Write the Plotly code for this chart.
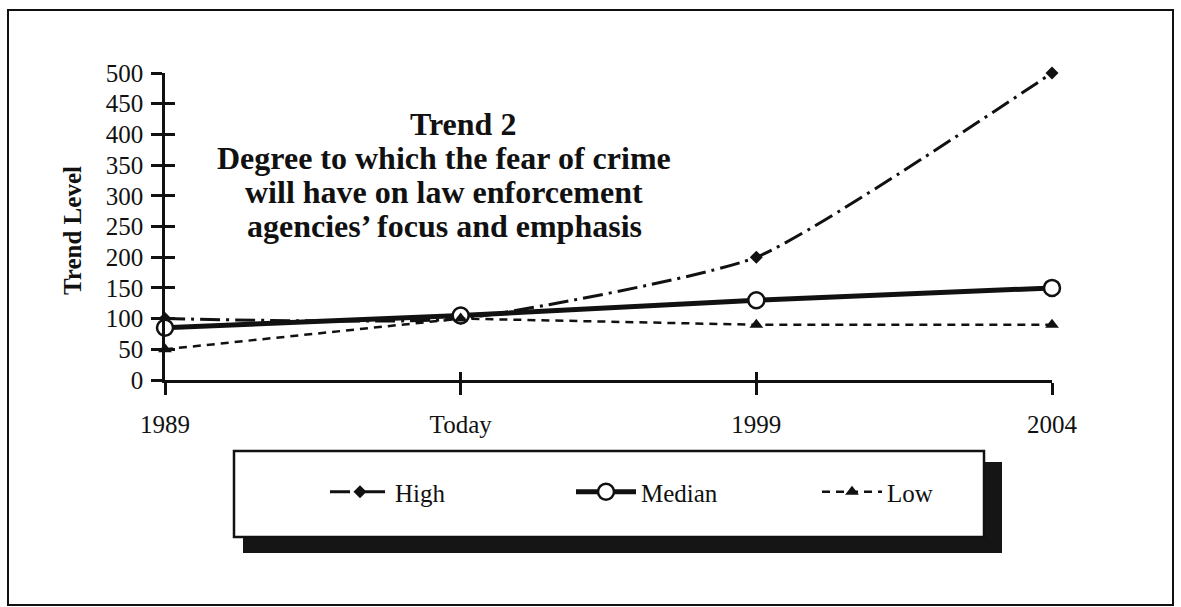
import plotly.graph_objects as go

PERIODS = ["1989", "Today", "1999", "2004"]
HIGH = [100, 100, 200, 500]
MEDIAN = [85, 105, 130, 150]
LOW = [50, 100, 90, 90]
Y_TICKS = list(range(0, 501, 50))

TITLE_LINES = [
    "Trend 2",
    "Degree to which the fear of crime",
    "will have on law enforcement",
    "agencies\u2019 focus and emphasis",
]

SERIF = "Liberation Serif, Times New Roman, serif"
INK = "#111111"

# plot area in pixels: x 165..1052, y 73..380 (figure 1181 x 607)
W, H = 1181, 607
L, R, T, B = 165, 129, 73, 227
PW, PH = W - L - R, H - T - B


def px_x(p):
    return (p - L) / PW


def px_y(p):
    return (H - B - p) / PH


fig = go.Figure()

fig.add_trace(go.Scatter(
    x=PERIODS, y=HIGH, name="High", mode="lines+markers",
    line=dict(color=INK, width=3, dash="20px,6px,3px,6px", shape="spline", smoothing=0.5),
    marker=dict(symbol="diamond", size=10, color=INK),
    cliponaxis=False,
))
fig.add_trace(go.Scatter(
    x=PERIODS, y=MEDIAN, name="Median", mode="lines+markers",
    line=dict(color=INK, width=5),
    marker=dict(symbol="circle", size=16, color="white", line=dict(color=INK, width=2.5)),
    cliponaxis=False,
))
fig.add_trace(go.Scatter(
    x=PERIODS, y=LOW, name="Low", mode="lines+markers",
    line=dict(color=INK, width=2.5, dash="8px,6px"),
    marker=dict(symbol="triangle-up", size=12, color=INK),
    cliponaxis=False,
))
# empty trace so the overlay axes (inner half of the crossing ticks) get drawn
fig.add_trace(go.Scatter(x=[], y=[], xaxis="x2", yaxis="y2", showlegend=False, hoverinfo="skip"))

axis_font = dict(family=SERIF, size=25, color=INK)

annotations = [
    dict(text=f"<b>{line}</b>", xref="paper", yref="paper",
         x=px_x(463 if i == 0 else 444), y=px_y(124 + 34 * i),
         xanchor="center", yanchor="middle",
         showarrow=False, font=dict(family=SERIF, size=32, color=INK))
    for i, line in enumerate(TITLE_LINES)
]
annotations.append(dict(
    text="<b>Trend Level</b>", textangle=-90,
    xref="paper", yref="paper", x=px_x(72), y=px_y(231),
    xanchor="center", yanchor="middle", showarrow=False,
    font=dict(family=SERIF, size=25, color=INK),
))

fig.update_layout(
    width=W, height=H,
    paper_bgcolor="white", plot_bgcolor="white",
    margin=dict(l=L, r=R, t=T, b=B),
    font=dict(family=SERIF, color=INK),
    xaxis=dict(
        type="category", categoryorder="array", categoryarray=PERIODS,
        range=[0, len(PERIODS) - 1], showgrid=False, zeroline=False,
        showline=True, linecolor=INK, linewidth=2.5,
        ticks="outside", ticklen=12, tickwidth=2.5, tickcolor=INK,
        tickfont=axis_font, ticklabelstandoff=8,
    ),
    yaxis=dict(
        range=[0, 500], tickvals=Y_TICKS, showgrid=False, zeroline=False,
        showline=True, linecolor=INK, linewidth=2.5,
        ticks="outside", ticklen=11, tickwidth=2.5, tickcolor=INK,
        tickfont=axis_font, ticklabelstandoff=3,
    ),
    xaxis2=dict(
        overlaying="x", anchor="y2", range=[0, len(PERIODS) - 1],
        tickvals=list(range(len(PERIODS))), showticklabels=False,
        showgrid=False, zeroline=False, showline=False,
        ticks="inside", ticklen=8, tickwidth=2.5, tickcolor=INK,
    ),
    yaxis2=dict(
        overlaying="y", anchor="x2", range=[0, 500], tickvals=Y_TICKS,
        showticklabels=False, showgrid=False, zeroline=False, showline=False,
        ticks="inside", ticklen=10, tickwidth=2.5, tickcolor=INK,
    ),
    showlegend=True,
    legend=dict(
        orientation="h", x=px_x(325), xanchor="left", y=px_y(492), yanchor="middle",
        bgcolor="rgba(0,0,0,0)", font=dict(family=SERIF, size=25, color=INK),
        itemwidth=60, entrywidth=171,
    ),
    shapes=[
        # outer frame
        dict(type="rect", xref="paper", yref="paper",
             x0=px_x(8), x1=px_x(1173), y0=px_y(605), y1=px_y(10),
             line=dict(color=INK, width=2), layer="below"),
        # legend shadow
        dict(type="rect", xref="paper", yref="paper",
             x0=px_x(243), x1=px_x(1002), y0=px_y(553), y1=px_y(462),
             line=dict(width=0), fillcolor="#151515", layer="below"),
        # legend box
        dict(type="rect", xref="paper", yref="paper",
             x0=px_x(234), x1=px_x(984), y0=px_y(537), y1=px_y(451),
             line=dict(color=INK, width=2.5), fillcolor="white", layer="below"),
    ],
    annotations=annotations,
)

# the page is photographed at 1181x607, so drop the default body margin
fig.write_html(
    "out.html",
    config={"displayModeBar": False},
    post_script="document.body.style.margin = '0';",
)
